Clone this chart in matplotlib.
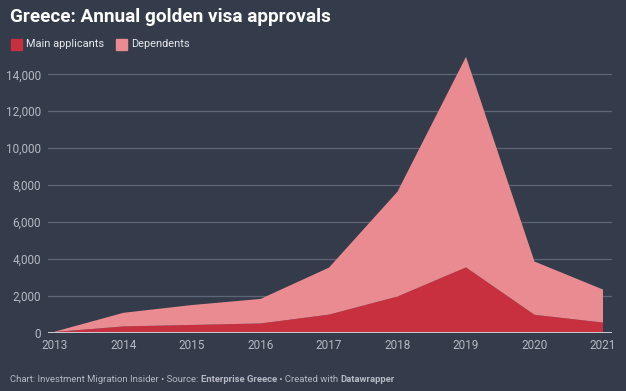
import matplotlib
matplotlib.use("Agg")
import matplotlib.pyplot as plt
from matplotlib.patches import Rectangle

years = [2013, 2014, 2015, 2016, 2017, 2018, 2019, 2020, 2021]
main_applicants = [30, 330, 410, 490, 970, 1950, 3530, 960, 540]
totals = [50, 1070, 1490, 1820, 3520, 7640, 14950, 3850, 2330]
dependents = [t - m for t, m in zip(totals, main_applicants)]
yticks = [0, 2000, 4000, 6000, 8000, 10000, 12000, 14000]
ytick_labels = ["0", "2,000", "4,000", "6,000", "8,000", "10,000", "12,000", "14,000"]

BG = "#343b4a"
C_MAIN = "#c9303f"
C_DEP = "#ea8b92"
GRID = "#5d6577"
TXT = "#b4b9c3"

plt.rcParams['font.family'] = ['Roboto', 'DejaVu Sans']

fig = plt.figure(figsize=(6.26, 3.91), dpi=100, facecolor=BG)
W, H = 626, 391
ax = fig.add_axes([48 / W, 1 - 332.5 / H, (612 - 48) / W, (332.5 - 55) / H])
ax.set_facecolor(BG)

ax.stackplot(years, main_applicants, dependents, colors=[C_MAIN, C_DEP],
             linewidth=0, zorder=2)
ax.set_xlim(2013 - 7 / 68.5, 2021 + 9 / 68.5)
ax.set_ylim(0, 14000 * 15050 / 14000)

ax.set_yticks(yticks)
ax.set_yticklabels(ytick_labels)
ax.set_xticks(years)
ax.set_xticklabels([str(y) for y in years])
ax.grid(axis='y', color=GRID, linewidth=0.9, zorder=1)
ax.axhline(0, color="#c9ccd3", linewidth=1.4, zorder=3)
for s in ax.spines.values():
    s.set_visible(False)
ax.tick_params(axis='both', length=0, colors=TXT, labelsize=8.5)
ax.tick_params(axis='y', pad=5)
ax.tick_params(axis='x', pad=5)

# Title
fig.text(10 / W, 1 - 17 / H, "Greece: Annual golden visa approvals", color="white",
         fontsize=13.7, fontweight='bold', va='center', ha='left')

# Legend
fig.patches.append(Rectangle((11 / W, 1 - 50 / H), 11 / W, 11 / H,
                             transform=fig.transFigure, color=C_MAIN))
fig.text(26 / W, 1 - 44 / H, "Main applicants", color="#e6e8ec", fontsize=7.9,
         va='center', ha='left')
fig.patches.append(Rectangle((116 / W, 1 - 50 / H), 11 / W, 11 / H,
                             transform=fig.transFigure, color=C_DEP))
fig.text(131 / W, 1 - 44 / H, "Dependents", color="#e6e8ec", fontsize=7.9,
         va='center', ha='left')

# Footer with mixed weights
parts = [("Chart: Investment Migration Insider \u2022 Source: ", 'normal'),
         ("Enterprise Greece", 'bold'),
         (" \u2022 Created with ", 'normal'),
         ("Datawrapper", 'bold')]
fig.canvas.draw()
renderer = fig.canvas.get_renderer()
x = 10 / W
for s, w in parts:
    t = fig.text(x, 1 - 380 / H, s, color=TXT, fontsize=6.8, fontweight=w,
                 va='center', ha='left')
    bb = t.get_window_extent(renderer=renderer)
    x += bb.width / fig.bbox.width

fig.savefig("out.png", dpi=100, facecolor=BG)
